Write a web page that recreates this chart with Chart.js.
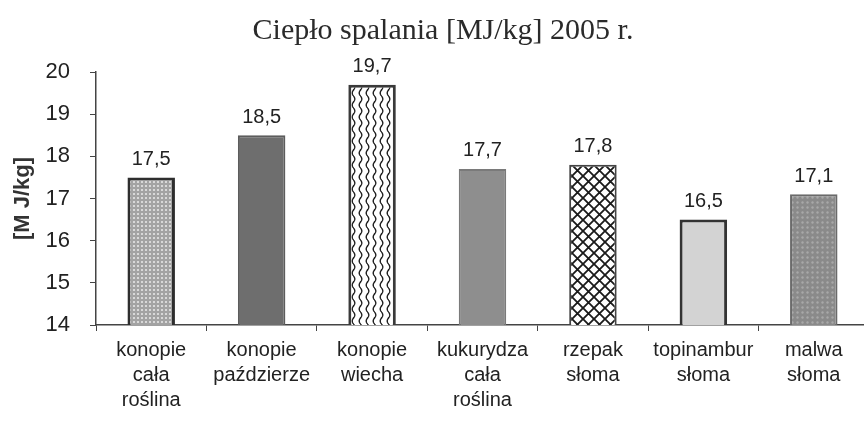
<!DOCTYPE html>
<html>
<head>
<meta charset="utf-8">
<script src="https://cdn.jsdelivr.net/npm/chart.js@4.4.1/dist/chart.umd.min.js"></script>
<style>
  html, body { margin: 0; padding: 0; background: #fff; overflow: hidden; }
  #wrap { position: relative; width: 886px; height: 426px; }
</style>
</head>
<body>
<div id="wrap"><canvas id="c"></canvas></div>
<script>
// ---- data ----
const categories = [
  ["konopie", "cała", "roślina"],
  ["konopie", "paździerze"],
  ["konopie", "wiecha"],
  ["kukurydza", "cała", "roślina"],
  ["rzepak", "słoma"],
  ["topinambur", "słoma"],
  ["malwa", "słoma"]
];
const values = [17.5, 18.5, 19.7, 17.7, 17.8, 16.5, 17.1];
const yTicks = [14, 15, 16, 17, 18, 19, 20];
const chartTitle = "Ciepło spalania [MJ/kg] 2005 r.";
const yTitle = "[M J/kg]";

const SANS = '"Liberation Sans", Arial, sans-serif';

// ---- fill patterns (styles) ----
function tile(w, h, draw) {
  const cv = document.createElement('canvas');
  cv.width = w; cv.height = h;
  const g = cv.getContext('2d');
  draw(g, w, h);
  return g.createPattern(cv, 'repeat');
}
const pDots = tile(4, 4, (g, w, h) => {
  g.fillStyle = '#a3a3a3'; g.fillRect(0, 0, w, h);
  g.fillStyle = '#e6e6e6'; g.beginPath(); g.arc(2, 2, 1.1, 0, Math.PI * 2); g.fill();
});
const pWave = tile(7, 12, (g, w, h) => {
  g.fillStyle = '#ffffff'; g.fillRect(0, 0, w, h);
  g.strokeStyle = '#1e1e1e'; g.lineWidth = 1.4; g.beginPath();
  for (let y = 0; y <= h; y += 0.5) {
    const x = 3.5 + 1.3 * Math.sin(y / h * Math.PI * 2);
    if (y === 0) g.moveTo(x, y); else g.lineTo(x, y);
  }
  g.stroke();
});
const pCross = tile(11, 11, (g, w, h) => {
  g.fillStyle = '#ffffff'; g.fillRect(0, 0, w, h);
  g.strokeStyle = '#1a1a1a'; g.lineWidth = 1.8; g.beginPath();
  g.moveTo(-1, -1); g.lineTo(12, 12);
  g.moveTo(-1, 12); g.lineTo(12, -1);
  g.stroke();
});
const pDots2 = tile(5, 5, (g, w, h) => {
  g.fillStyle = '#8a8a8a'; g.fillRect(0, 0, w, h);
  g.fillStyle = '#a8a8a8'; g.beginPath(); g.arc(2.5, 2.5, 1.2, 0, Math.PI * 2); g.fill();
});

const fills = [pDots, '#6e6e6e', pWave, '#8e8e8e', pCross, '#d3d3d3', pDots2];
const borders = ['#2e2e2e', '#5c5c5c', '#3a3a3a', '#7a7a7a', '#444444', '#333333', '#6a6a6a'];
const borderWidths = [3, 2, 3, 2, 2, 3, 2];

// ---- title + value labels ----
const extraText = {
  id: 'extraText',
  afterDraw(chart) {
    const ctx = chart.ctx;
    ctx.save();
    ctx.font = '30px "Liberation Serif", "Times New Roman", serif';
    ctx.fillStyle = '#2a2a2a';
    ctx.textAlign = 'center';
    ctx.textBaseline = 'middle';
    ctx.fillText(chartTitle, 443, 31);
    ctx.restore();
  },
  afterDatasetsDraw(chart) {
    const ctx = chart.ctx;
    const meta = chart.getDatasetMeta(0);
    ctx.save();
    ctx.font = '20px ' + SANS;
    ctx.fillStyle = '#222';
    ctx.textAlign = 'center';
    ctx.textBaseline = 'middle';
    meta.data.forEach((bar, i) => {
      const txt = values[i].toFixed(1).replace('.', ',');
      ctx.fillText(txt, bar.x, bar.y - 18);
    });
    ctx.restore();
  }
};

new Chart(document.getElementById('c'), {
  type: 'bar',
  data: {
    labels: categories,
    datasets: [{
      data: values,
      backgroundColor: fills,
      borderColor: borders,
      borderWidth: borderWidths,
      borderSkipped: false,
      barPercentage: 0.43,
      categoryPercentage: 1.0
    }]
  },
  options: {
    responsive: true,
    maintainAspectRatio: false,
    animation: false,
    devicePixelRatio: 1,
    layout: { padding: { left: 0, right: 17, top: 72, bottom: 6 } },
    plugins: {
      legend: { display: false },
      tooltip: { enabled: false },
      title: { display: false }
    },
    scales: {
      x: {
        grid: { display: true, drawOnChartArea: false, drawTicks: true, tickLength: 6, color: '#444', offset: true },
        border: { display: true, color: '#444', width: 1.5 },
        ticks: {
          color: '#222',
          padding: 7,
          maxRotation: 0,
          autoSkip: false,
          font: { family: SANS, size: 20, lineHeight: 1.25 }
        }
      },
      y: {
        min: 14,
        max: 20,
        afterBuildTicks(scale) { scale.ticks = yTicks.map(v => ({ value: v })); },
        afterFit(scale) { scale.width = 96; },
        grid: { display: true, drawOnChartArea: false, drawTicks: true, tickLength: 6, color: '#444' },
        border: { display: true, color: '#444', width: 1.5 },
        ticks: {
          color: '#222',
          padding: 20,
          font: { family: SANS, size: 22 }
        },
        title: {
          display: true,
          text: yTitle,
          color: '#333',
          font: { family: SANS, size: 22, weight: 'bold', lineHeight: 1.2 },
          padding: { top: 10, bottom: 10 }
        }
      }
    }
  },
  plugins: [extraText]
});
</script>
</body>
</html>
